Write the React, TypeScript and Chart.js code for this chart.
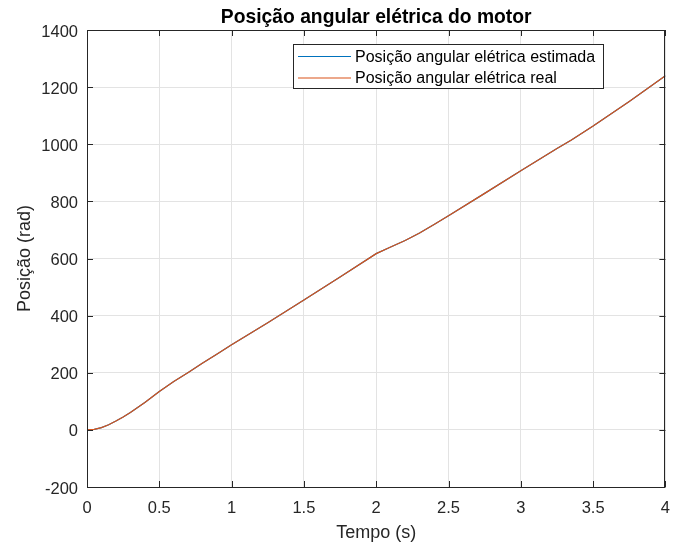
import React, { useEffect, useRef } from "react";
import { Chart, registerables } from "chart.js";

Chart.register(...registerables);

// Time samples (s)
const tempo = [
  0, 0.05, 0.1, 0.15, 0.2, 0.25, 0.3, 0.35, 0.4, 0.45, 0.5, 0.55, 0.6, 0.7, 0.8,
  0.9, 1.0, 1.25, 1.5, 1.75, 2.0, 2.1, 2.2, 2.3, 2.4, 2.5, 2.75, 3.0, 3.25, 3.35,
  3.5, 3.75, 4.0,
];

// Estimated electrical angular position (rad)
const posicaoEstimada = [
  0, 2, 8, 18, 31, 45, 61, 78, 96, 115, 134, 152, 169, 201, 234, 266, 298, 375,
  455, 535, 617, 640, 663, 689, 719, 750, 828, 907, 985, 1015, 1064, 1150, 1240,
];

// Real electrical angular position (rad)
const posicaoReal = [
  0, 2, 8, 18, 31, 45, 61, 78, 96, 115, 134, 152, 169, 201, 234, 266, 298, 375,
  455, 535, 617, 640, 663, 689, 719, 750, 828, 907, 985, 1015, 1064, 1150, 1240,
];

const xTicks = [0, 0.5, 1, 1.5, 2, 2.5, 3, 3.5, 4];
const yTicks = [-200, 0, 200, 400, 600, 800, 1000, 1200, 1400];
const xTickLabels = ["0", "0.5", "1", "1.5", "2", "2.5", "3", "3.5", "4"];
const yTickLabels = ["-200", "0", "200", "400", "600", "800", "1000", "1200", "1400"];

const titulo = "Posição angular elétrica do motor";
const rotuloX = "Tempo (s)";
const rotuloY = "Posição (rad)";
const legendas = ["Posição angular elétrica estimada", "Posição angular elétrica real"];
const cores = ["#0072BD", "#D95319"];

const FONT = "'Liberation Sans', Arial, Helvetica, sans-serif";
const AXIS_COLOR = "#262626";

// Boxed axes with inward ticks, title, axis labels and in-plot legend
const framePlugin = {
  id: "frame",
  afterDraw(chart: any) {
    const { ctx, chartArea } = chart;
    const { left, right, top, bottom } = chartArea;
    const xs = chart.scales.x;
    const ys = chart.scales.y;
    ctx.save();

    // axes box
    ctx.strokeStyle = AXIS_COLOR;
    ctx.lineWidth = 1;
    ctx.strokeRect(Math.round(left) + 0.5, Math.round(top) + 0.5, Math.round(right - left) - 1, Math.round(bottom - top));

    // inward ticks
    const tl = 6;
    ctx.beginPath();
    xTicks.forEach((v) => {
      const px = Math.round(xs.getPixelForValue(v)) + 0.5;
      ctx.moveTo(px, bottom);
      ctx.lineTo(px, bottom - tl);
      ctx.moveTo(px, top);
      ctx.lineTo(px, top + tl);
    });
    yTicks.forEach((v) => {
      const py = Math.round(ys.getPixelForValue(v)) + 0.5;
      ctx.moveTo(left, py);
      ctx.lineTo(left + tl, py);
      ctx.moveTo(right, py);
      ctx.lineTo(right - tl, py);
    });
    ctx.stroke();

    // title
    ctx.fillStyle = "#000";
    ctx.font = `bold 19.3px ${FONT}`;
    ctx.textAlign = "center";
    ctx.textBaseline = "alphabetic";
    ctx.fillText(titulo, (left + right) / 2, 23);

    // axis labels
    ctx.fillStyle = AXIS_COLOR;
    ctx.font = `18px ${FONT}`;
    ctx.fillText(rotuloX, (left + right) / 2, 538);
    ctx.save();
    ctx.translate(30, (top + bottom) / 2);
    ctx.rotate(-Math.PI / 2);
    ctx.fillText(rotuloY, 0, 0);
    ctx.restore();

    // legend
    const lx = 293, ly = 44, lw = 310, lh = 44;
    ctx.fillStyle = "#fff";
    ctx.fillRect(lx, ly, lw, lh);
    ctx.strokeStyle = AXIS_COLOR;
    ctx.lineWidth = 1;
    ctx.strokeRect(lx + 0.5, ly + 0.5, lw, lh);
    ctx.font = `16px ${FONT}`;
    ctx.textAlign = "left";
    ctx.textBaseline = "middle";
    const rows = [56.5, 78];
    legendas.forEach((txt, i) => {
      ctx.strokeStyle = cores[i];
      ctx.lineWidth = 1.2;
      ctx.beginPath();
      ctx.moveTo(298, rows[i]);
      ctx.lineTo(351, rows[i]);
      ctx.stroke();
      ctx.fillStyle = "#000";
      ctx.fillText(txt, 355, rows[i] + 1);
    });

    ctx.restore();
  },
};

export default function App() {
  const canvasRef = useRef<HTMLCanvasElement | null>(null);

  useEffect(() => {
    document.body.style.margin = "0";
    const canvas = canvasRef.current;
    if (!canvas) return;

    const chart = new Chart(canvas, {
      type: "line",
      data: {
        datasets: [
          {
            label: legendas[0],
            data: tempo.map((t, i) => ({ x: t, y: posicaoEstimada[i] })),
            borderColor: cores[0],
            borderWidth: 1.2,
            pointRadius: 0,
            tension: 0,
            order: 2,
          },
          {
            label: legendas[1],
            data: tempo.map((t, i) => ({ x: t, y: posicaoReal[i] })),
            borderColor: cores[1],
            borderWidth: 1.2,
            pointRadius: 0,
            tension: 0,
            order: 1,
          },
        ],
      },
      options: {
        responsive: false,
        animation: false,
        layout: { padding: { left: 0, top: 30, right: 16, bottom: 0 } },
        plugins: {
          legend: { display: false },
          title: { display: false },
          tooltip: { enabled: false },
        },
        scales: {
          x: {
            type: "linear",
            min: 0,
            max: 4,
            afterBuildTicks: (s: any) => {
              s.ticks = xTicks.map((v) => ({ value: v }));
            },
            afterFit: (s: any) => {
              s.height = 58;
            },
            border: { display: false },
            grid: { color: "#e3e3e3", drawTicks: false, lineWidth: 1 },
            ticks: {
              color: AXIS_COLOR,
              font: { family: FONT, size: 16.5 },
              padding: 12,
              maxRotation: 0,
              autoSkip: false,
              callback: (v: any) => xTickLabels[xTicks.indexOf(Number(v))] ?? "",
            },
          },
          y: {
            type: "linear",
            min: -200,
            max: 1400,
            afterBuildTicks: (s: any) => {
              s.ticks = yTicks.map((v) => ({ value: v }));
            },
            afterFit: (s: any) => {
              s.width = 87;
            },
            border: { display: false },
            grid: { color: "#e3e3e3", drawTicks: false, lineWidth: 1 },
            ticks: {
              color: AXIS_COLOR,
              font: { family: FONT, size: 16.5 },
              padding: 9,
              labelOffset: 2,
              autoSkip: false,
              callback: (v: any) => yTickLabels[yTicks.indexOf(Number(v))] ?? "",
            },
          },
        },
      },
      plugins: [framePlugin],
    });

    return () => chart.destroy();
  }, []);

  return (
    <div style={{ width: 682, height: 545, background: "#fff" }}>
      <canvas ref={canvasRef} width={682} height={545} style={{ display: "block" }} />
    </div>
  );
}
